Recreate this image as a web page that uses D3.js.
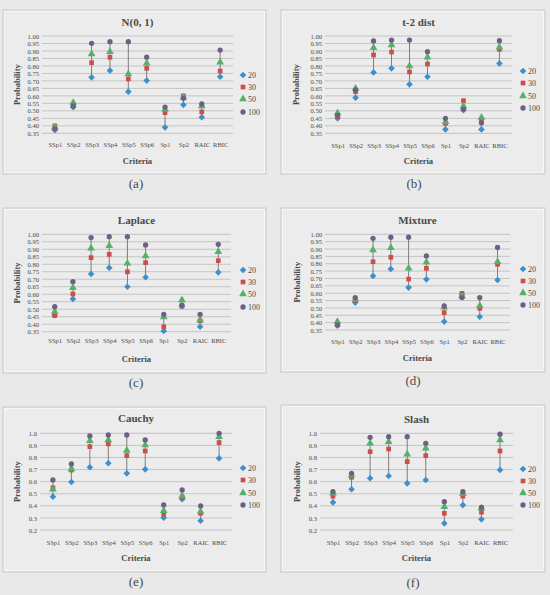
<!DOCTYPE html>
<html>
<head>
<meta charset="utf-8">
<script src="https://cdn.jsdelivr.net/npm/d3@7"></script>
<style>
  body { margin: 0; background: #e9e9e9; }
  svg { display: block; }
  text { font-family: "Liberation Serif", "DejaVu Serif", serif; fill: #4a4a4a; }
</style>
</head>
<body>
<div id="chart-area"></div>
<script>
// categories and series
var categories = ["SSp1", "SSp2", "SSp3", "SSp4", "SSp5", "SSp6", "Sp1", "Sp2", "RAIC", "RBIC"];
var seriesNames = ["20", "30", "50", "100"];
var ticksFine = [0.35, 0.40, 0.45, 0.50, 0.55, 0.60, 0.65, 0.70, 0.75, 0.80, 0.85, 0.90, 0.95, 1.00];
var ticksCoarse = [0.2, 0.3, 0.4, 0.5, 0.6, 0.7, 0.8, 0.9, 1.0];

// (a) N(0,1)
var n20  = [0.372, 0.524, 0.724, 0.769, 0.628, 0.702, 0.390, 0.540, 0.457, 0.728];
var n30  = [0.399, 0.540, 0.822, 0.858, 0.713, 0.784, 0.488, 0.600, 0.493, 0.766];
var n50  = [0.390, 0.555, 0.880, 0.895, 0.746, 0.818, 0.510, 0.590, 0.533, 0.824];
var n100 = [0.379, 0.533, 0.951, 0.962, 0.962, 0.858, 0.525, 0.584, 0.546, 0.906];

// (b) t-2 dist
var t20  = [0.450, 0.588, 0.757, 0.784, 0.677, 0.728, 0.376, 0.505, 0.376, 0.817];
var t30  = [0.461, 0.628, 0.873, 0.893, 0.760, 0.813, 0.416, 0.568, 0.432, 0.911];
var t50  = [0.485, 0.650, 0.922, 0.940, 0.800, 0.858, 0.427, 0.533, 0.456, 0.925];
var t100 = [0.470, 0.640, 0.967, 0.973, 0.973, 0.895, 0.450, 0.510, 0.420, 0.969];

// (c) Laplace
var l20  = [0.460, 0.568, 0.735, 0.777, 0.650, 0.713, 0.355, 0.520, 0.383, 0.746];
var l30  = [0.457, 0.602, 0.844, 0.866, 0.750, 0.811, 0.383, 0.521, 0.423, 0.824];
var l50  = [0.484, 0.644, 0.907, 0.924, 0.806, 0.855, 0.448, 0.561, 0.428, 0.884];
var l100 = [0.517, 0.684, 0.978, 0.984, 0.984, 0.929, 0.466, 0.528, 0.466, 0.933];

// (d) Mixture
var m20  = [0.379, 0.536, 0.717, 0.764, 0.638, 0.694, 0.407, 0.590, 0.440, 0.690];
var m30  = [0.390, 0.550, 0.814, 0.844, 0.696, 0.769, 0.468, 0.599, 0.497, 0.796];
var m50  = [0.407, 0.558, 0.894, 0.909, 0.769, 0.810, 0.505, 0.580, 0.515, 0.814];
var m100 = [0.384, 0.570, 0.973, 0.980, 0.980, 0.853, 0.513, 0.570, 0.570, 0.911];

// (e) Cauchy
var c20  = [0.476, 0.597, 0.719, 0.752, 0.669, 0.702, 0.302, 0.454, 0.277, 0.793];
var c30  = [0.550, 0.696, 0.890, 0.912, 0.815, 0.854, 0.332, 0.470, 0.338, 0.923];
var c50  = [0.537, 0.705, 0.939, 0.945, 0.857, 0.903, 0.360, 0.481, 0.352, 0.972];
var c100 = [0.614, 0.746, 0.978, 0.986, 0.986, 0.945, 0.407, 0.531, 0.399, 1.000];

// (f) Slash
var s20  = [0.428, 0.537, 0.628, 0.647, 0.586, 0.614, 0.255, 0.406, 0.288, 0.697];
var s30  = [0.480, 0.636, 0.848, 0.870, 0.766, 0.815, 0.338, 0.480, 0.347, 0.854];
var s50  = [0.503, 0.655, 0.917, 0.931, 0.826, 0.876, 0.393, 0.500, 0.380, 0.945];
var s100 = [0.517, 0.669, 0.967, 0.972, 0.972, 0.917, 0.434, 0.517, 0.388, 0.992];

var colors = ["#3f8fcc", "#cf4c4c", "#55b068", "#6f5f86"];
var shapes = [d3.symbolSquare, d3.symbolSquare, d3.symbolTriangle, d3.symbolCircle];
var sizes = [22, 22, 26, 22];
var rot = [45, 0, 0, 0];

// layout of each small chart
var panels = [
  {title: "N(0, 1)", tag: "(a)", series: [n20, n30, n50, n100], ticks: ticksFine, fmt: ".2f",
   box: [3, 10, 266, 174], gx: [42, 233], gy: [36, 133.3], catY: 148, critY: 164, probX: 17,
   titleY: 26, legX: 243, legY: [75, 87, 99, 112], tagX: 136, tagY: 188},
  {title: "t-2 dist", tag: "(b)", series: [t20, t30, t50, t100], ticks: ticksFine, fmt: ".2f",
   box: [281, 10, 545, 174], gx: [325, 512], gy: [36, 133.3], catY: 149, critY: 164, probX: 296,
   titleY: 26, legX: 523, legY: [71, 83, 96, 108], tagX: 414, tagY: 188},
  {title: "Laplace", tag: "(c)", series: [l20, l30, l50, l100], ticks: ticksFine, fmt: ".2f",
   box: [3, 208, 266, 373], gx: [42, 231], gy: [234.3, 331.7], catY: 344, critY: 362, probX: 17,
   titleY: 224, legX: 243, legY: [270, 282, 294, 307], tagX: 136, tagY: 387},
  {title: "Mixture", tag: "(d)", series: [m20, m30, m50, m100], ticks: ticksFine, fmt: ".2f",
   box: [281, 208, 545, 372], gx: [325, 510], gy: [234.3, 330], catY: 345, critY: 361, probX: 297,
   titleY: 224, legX: 523, legY: [269, 281, 293, 305], tagX: 413, tagY: 385},
  {title: "Cauchy", tag: "(e)", series: [c20, c30, c50, c100], ticks: ticksCoarse, fmt: ".1f",
   box: [3, 407, 266, 572], gx: [40, 232], gy: [433.3, 530], catY: 546, critY: 561, probX: 17,
   titleY: 422, legX: 243, legY: [468, 480, 493, 505], tagX: 136, tagY: 586},
  {title: "Slash", tag: "(f)", series: [s20, s30, s50, s100], ticks: ticksCoarse, fmt: ".1f",
   box: [281, 405, 545, 572], gx: [320, 513], gy: [433.3, 530], catY: 546, critY: 561, probX: 297,
   titleY: 423, legX: 523, legY: [469, 481, 493, 505], tagX: 413, tagY: 587}
];

var svg = d3.select("#chart-area").append("svg")
    .attr("width", 550)
    .attr("height", 595);

svg.append("rect").attr("width", 550).attr("height", 595).attr("fill", "#e9e9e9");

panels.forEach(p => {
    var g = svg.append("g");

    // panel frame
    g.append("rect")
        .attr("x", p.box[0]).attr("y", p.box[1])
        .attr("width", p.box[2] - p.box[0]).attr("height", p.box[3] - p.box[1])
        .attr("fill", "#ececec")
        .attr("stroke", "#cfcfcf")
        .attr("stroke-width", 1.2);
    g.append("rect")
        .attr("x", p.box[0] + 1.5).attr("y", p.box[1] + 1.5)
        .attr("width", p.box[2] - p.box[0] - 3).attr("height", p.box[3] - p.box[1] - 3)
        .attr("fill", "none")
        .attr("stroke", "#f7f7f7")
        .attr("stroke-width", 1);

    var x = d3.scalePoint()
        .domain(categories)
        .range(p.gx)
        .padding(0.7);

    var y = d3.scaleLinear()
        .domain([p.ticks[0], p.ticks[p.ticks.length - 1]])
        .range([p.gy[1], p.gy[0]]);

    // gridlines
    g.selectAll(".grid")
        .data(p.ticks)
        .enter()
        .append("line")
        .attr("x1", p.gx[0]).attr("x2", p.gx[1])
        .attr("y1", d => y(d)).attr("y2", d => y(d))
        .attr("stroke", "#c4c4c4")
        .attr("stroke-width", 1);

    // y axis labels
    var yAxis = d3.axisLeft(y).tickValues(p.ticks).tickFormat(d3.format(p.fmt)).tickSize(0).tickPadding(3);
    var ya = g.append("g").attr("transform", `translate(${p.gx[0]},0)`).call(yAxis);
    ya.select(".domain").remove();
    ya.selectAll("text")
        .attr("font-family", "Liberation Serif")
        .attr("font-size", "6.6px")
        .attr("fill", "#4a4a4a");

    // x axis labels
    var xAxis = d3.axisBottom(x).tickSize(0).tickPadding(0);
    var xa = g.append("g").attr("transform", `translate(0,${p.catY - 6})`).call(xAxis);
    xa.select(".domain").remove();
    xa.selectAll("text")
        .attr("font-family", "Liberation Serif")
        .attr("font-size", "6.5px")
        .attr("fill", "#4a4a4a");

    // high-low lines
    var rows = categories.map((c, i) => p.series.map(s => s[i]));
    g.selectAll(".hl")
        .data(rows)
        .enter()
        .append("line")
        .attr("x1", (d, i) => x(categories[i]))
        .attr("x2", (d, i) => x(categories[i]))
        .attr("y1", d => y(d3.min(d)))
        .attr("y2", d => y(d3.max(d)))
        .attr("stroke", "#7d7d7d")
        .attr("stroke-width", 1);

    // markers
    p.series.forEach((s, k) => {
        g.selectAll(".m" + k)
            .data(s)
            .enter()
            .append("path")
            .attr("d", d3.symbol().type(shapes[k]).size(sizes[k]))
            .attr("transform", (d, i) => `translate(${x(categories[i])},${y(d)}) rotate(${rot[k]})`)
            .attr("fill", colors[k]);
    });

    // titles
    g.append("text")
        .attr("x", (p.gx[0] + p.gx[1]) / 2)
        .attr("y", p.titleY)
        .attr("text-anchor", "middle")
        .attr("font-size", "11px")
        .attr("font-weight", "bold")
        .attr("fill", "#555")
        .text(p.title);

    g.append("text")
        .attr("x", (p.gx[0] + p.gx[1]) / 2)
        .attr("y", p.critY)
        .attr("text-anchor", "middle")
        .attr("font-size", "8.5px")
        .attr("font-weight", "bold")
        .text("Criteria");

    var midY = (p.gy[0] + p.gy[1]) / 2;
    g.append("text")
        .attr("transform", `translate(${p.probX + 3},${midY}) rotate(-90)`)
        .attr("text-anchor", "middle")
        .attr("font-size", "8.5px")
        .attr("font-weight", "bold")
        .text("Probability");

    // legend
    seriesNames.forEach((nm, k) => {
        g.append("path")
            .attr("d", d3.symbol().type(shapes[k]).size(sizes[k]))
            .attr("transform", `translate(${p.legX},${p.legY[k]}) rotate(${rot[k]})`)
            .attr("fill", colors[k]);
        g.append("text")
            .attr("x", p.legX + 5)
            .attr("y", p.legY[k] + 3)
            .attr("font-size", "8px")
            .text(nm);
    });

    // panel tag
    svg.append("text")
        .attr("x", p.tagX)
        .attr("y", p.tagY)
        .attr("text-anchor", "middle")
        .attr("font-size", "13px")
        .text(p.tag);
});
</script>
</body>
</html>
